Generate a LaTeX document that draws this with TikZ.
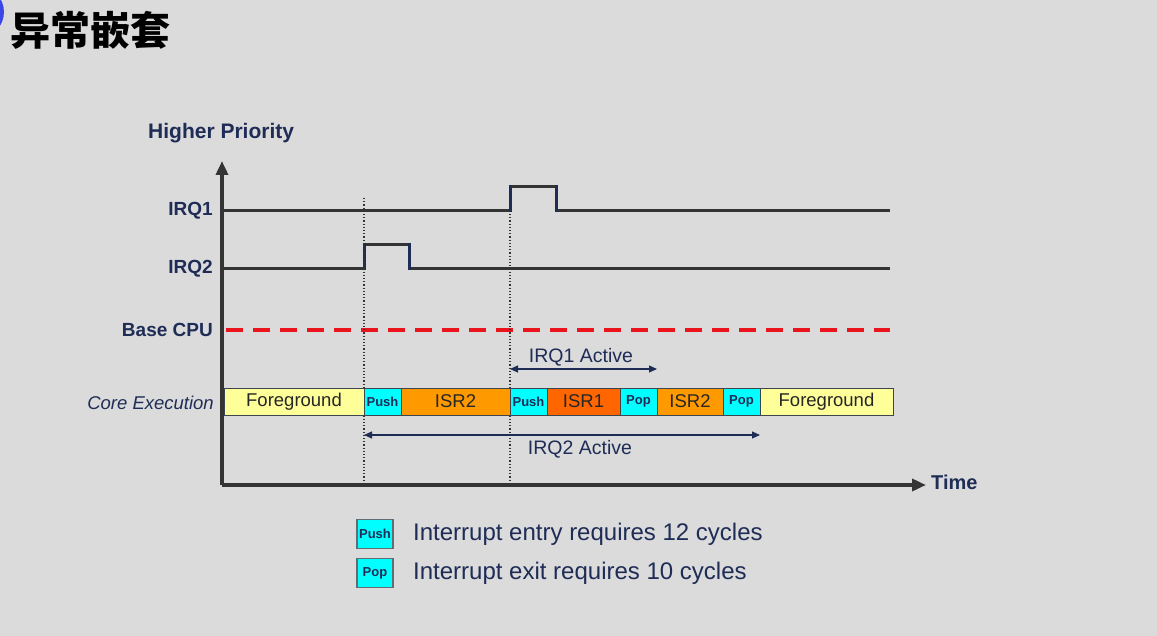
\documentclass[tikz,border=0pt]{standalone}
\usepackage{fontspec}
\setmainfont{Liberation Sans}
\newfontfamily\cjk{Noto Sans CJK SC}
\usetikzlibrary{arrows.meta, positioning}
\definecolor{cBack}{RGB}{219,219,219}
\definecolor{cNavy}{RGB}{30,44,86}
\definecolor{cLine}{RGB}{52,52,52}
\definecolor{cRed}{RGB}{235,20,28}
\definecolor{cEdge}{RGB}{60,70,80}
\definecolor{cFore}{RGB}{255,255,153}
\definecolor{cPush}{RGB}{0,255,255}
\definecolor{cIsrTwo}{RGB}{255,153,0}
\definecolor{cIsrOne}{RGB}{255,102,0}
\definecolor{cDeco}{RGB}{60,70,230}
\tikzset{
  %% row labels at the left
  rowlabel/.style={anchor=east, font=\fontsize{19}{22}\selectfont\bfseries, text=cNavy, inner sep=0pt},
  %% execution slices
  slice/.style={rectangle, draw=cEdge, line width=0.8pt, minimum height=27pt,
                inner sep=0pt, outer sep=0pt, font=\fontsize{18.5}{20}\selectfont, text=black!85},
  foreslice/.style={slice, fill=cFore},
  pushslice/.style={slice, fill=cPush, minimum width=37pt,
                    font=\fontsize{13}{15}\selectfont\bfseries, text=cNavy},
  isrslice/.style={slice, fill=cIsrTwo},
  isrhot/.style={slice, fill=cIsrOne},
  %% signal lines
  signal/.style={draw=cLine, line width=3pt},
  edgeline/.style={draw=cNavy, line width=3pt},
  axis/.style={draw=cLine, line width=3.5pt, -{Triangle[length=14pt, width=12pt]}},
  marker/.style={draw=cLine, line width=1.2pt, dotted},
  span/.style={draw=cNavy, line width=1.2pt, {Triangle[length=8pt, width=7pt]}-{Triangle[length=8pt, width=7pt]}},
  spanlabel/.style={font=\fontsize{19.5}{22}\selectfont, text=cNavy, inner sep=0pt},
  legendtext/.style={anchor=west, font=\fontsize{24}{27}\selectfont, text=cNavy, inner sep=0pt},
}

\begin{document}
\begin{tikzpicture}[x=1pt, y=-1pt]

%% ============================================================
%%  CANVAS (pixel grid of the slide, y grows downwards)
%% ============================================================
\useasboundingbox (0,0) rectangle (1157,636);
\fill[cBack] (0,0) rectangle (1157,636);
\fill[cDeco] (-22,12) circle (26);

%% ----- Title -----
\node[anchor=west, inner sep=0pt, font=\cjk\bfseries\fontsize{40}{42}\selectfont]
  (title) at (10,30) {异常嵌套};

%% ============================================================
%%  AXES
%% ============================================================
\def\Ox{222}
\def\Oy{485}
\coordinate (origin) at (\Ox,\Oy);
\coordinate (ytip)   at (\Ox,161);
\coordinate (xtip)   at (926,\Oy);
\draw[axis] (origin) -- (ytip);
\draw[axis] (origin) -- (xtip);

\node[anchor=west, inner sep=0pt, font=\fontsize{21}{24}\selectfont\bfseries, text=cNavy]
  (higher) at (148,133) {Higher Priority};
\node[anchor=west, inner sep=0pt, font=\fontsize{20}{22}\selectfont\bfseries, text=cNavy]
  (time) at (931,482) {Time};

%% ----- Row labels -----
\node[rowlabel] (irqone) at (213,211) {IRQ1};
\node[rowlabel] (irqtwo) at (213,269) {IRQ2};
\node[rowlabel] (base)   at (213,330) {Base CPU};
\node[rowlabel, font=\fontsize{18.5}{22}\selectfont\itshape] (core) at (214,403) {Core Execution};

%% ============================================================
%%  INTERRUPT REQUEST LINES
%% ============================================================
\def\tA{364}  % IRQ2 arrives
\def\tB{510}  % IRQ1 arrives

%% IRQ1
\draw[signal] (\Ox,211) -- (\tB,211);
\draw[signal] (\tB,187) -- (556,187);
\draw[signal] (556,211) -- (890,211);
\draw[edgeline] (\tB,212.5) -- (\tB,185.5);
\draw[edgeline] (556,185.5) -- (556,212.5);

%% IRQ2
\draw[signal] (\Ox,269) -- (\tA,269);
\draw[signal] (\tA,245) -- (409,245);
\draw[signal] (409,269) -- (890,269);
\draw[edgeline] (\tA,270.5) -- (\tA,243.5);
\draw[edgeline] (409,243.5) -- (409,270.5);

%% Base CPU level
\draw[cRed, line width=4pt, dash pattern=on 17pt off 10pt] (226,330) -- (890,330);

%% ----- time markers -----
\draw[marker] (\tA,198) -- (\tA,\Oy);
\draw[marker] (\tB,214) -- (\tB,\Oy);

%% ============================================================
%%  CORE EXECUTION ROW
%% ============================================================
\node[foreslice, minimum width=140pt, anchor=west] (fgA) at (224,401.5) {Foreground};
\node[pushslice, right=0pt of fgA]   (pushA) {Push};
\node[isrslice, minimum width=109pt, right=0pt of pushA] (isrTwoA) {ISR2};
\node[pushslice, right=0pt of isrTwoA] (pushB) {Push};
\node[isrhot, minimum width=73pt, right=0pt of pushB] (isrOne) {ISR1};
\node[pushslice, right=0pt of isrOne] (popA) {Pop};
\node[isrslice, minimum width=66pt, right=0pt of popA] (isrTwoB) {ISR2};
\node[pushslice, right=0pt of isrTwoB] (popB) {Pop};
\node[foreslice, minimum width=133pt, right=0pt of popB] (fgB) {Foreground};

%% ----- active spans -----
\coordinate (oneL) at (\tB,369);
\coordinate (oneR) at (popA.east |- oneL);
\draw[span] (oneL) -- (oneR);
\node[spanlabel] (oneLabel) at (581,357) {IRQ1 Active};

\coordinate (twoL) at (\tA,435);
\coordinate (twoR) at (popB.east |- twoL);
\draw[span] (twoL) -- (twoR);
\node[spanlabel] (twoLabel) at (580,449) {IRQ2 Active};

%% ============================================================
%%  LEGEND
%% ============================================================
\node[pushslice, minimum width=36pt, minimum height=29pt, draw=cEdge!80, line width=1.2pt]
  (legPush) at (375,534) {Push};
\node[legendtext] (legPushText) at (413,534) {Interrupt entry requires 12 cycles};
\node[pushslice, minimum width=36pt, minimum height=29pt, draw=cEdge!80, line width=1.2pt]
  (legPop) at (375,573) {Pop};
\node[legendtext] (legPopText) at (413,573) {Interrupt exit requires 10 cycles};

\end{tikzpicture}
\end{document}
